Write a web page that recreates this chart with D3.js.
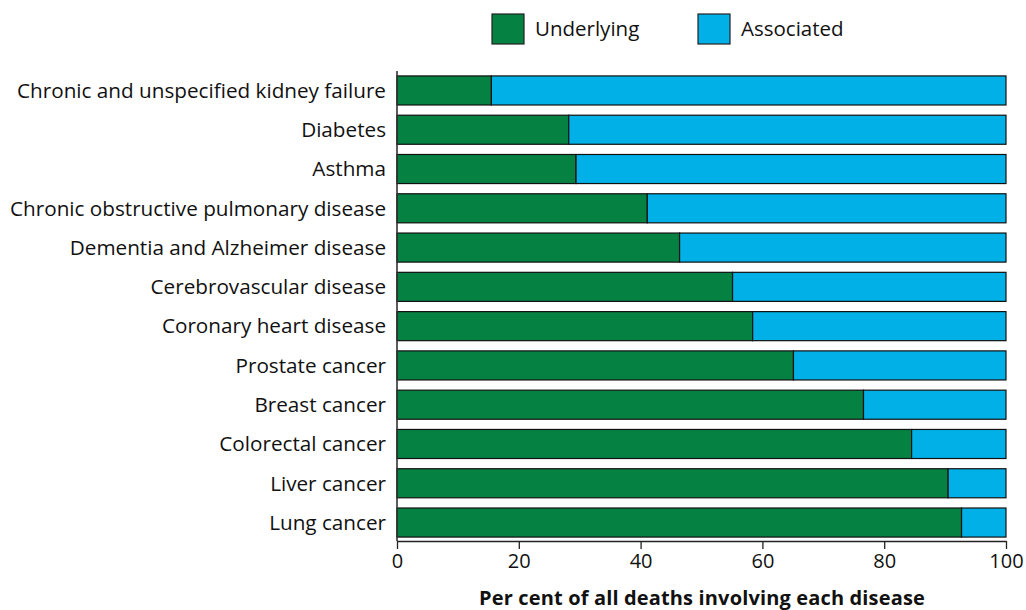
<!DOCTYPE html>
<html><head><meta charset="utf-8">
<script src="https://cdn.jsdelivr.net/npm/d3@7"></script>
<style>body{margin:0;background:#fff;} text{font-family:"Open Sans","Noto Sans",sans-serif;}</style>
</head><body>
<svg id="c" width="1026" height="610"></svg>
<script>
const categories = ["Chronic and unspecified kidney failure","Diabetes","Asthma","Chronic obstructive pulmonary disease","Dementia and Alzheimer disease","Cerebrovascular disease","Coronary heart disease","Prostate cancer","Breast cancer","Colorectal cancer","Liver cancer","Lung cancer"];
const underlying = [15.5,28.2,29.4,41.1,46.4,55.1,58.4,65.1,76.6,84.5,90.5,92.7];
const associated = underlying.map(v => 100 - v);
const seriesNames = ["Underlying","Associated"];
const xTicks = [0,20,40,60,80,100];
const xTitle = "Per cent of all deaths involving each disease";

const colors = {Underlying:"#058142", Associated:"#00B0E6"};
const svg = d3.select("#c");
const x = d3.scaleLinear().domain([0,100]).range([397,1006]);
const y = d3.scaleBand().domain(categories).range([72,541]).paddingInner(0.26).paddingOuter(0.1);

const rows = categories.map((c,i)=>({cat:c, Underlying:underlying[i], Associated:associated[i]}));
const stack = d3.stack().keys(seriesNames)(rows);

svg.append("g").selectAll("g").data(stack).join("g")
  .attr("fill", d=>colors[d.key])
  .selectAll("rect").data(d=>d).join("rect")
  .attr("x", d=>x(d[0])).attr("width", d=>x(d[1])-x(d[0]))
  .attr("y", d=>y(d.data.cat)).attr("height", y.bandwidth())
  .attr("stroke","#111").attr("stroke-width",1.2);

// x axis
const xa = svg.append("g").attr("transform","translate(0,541)")
  .call(d3.axisBottom(x).tickValues(xTicks).tickSize(8).tickSizeOuter(0).tickPadding(5));
xa.select(".domain").attr("stroke","#222").attr("stroke-width",1.3);
xa.selectAll(".tick line").attr("stroke","#222").attr("stroke-width",1.3);
xa.selectAll(".tick text").attr("font-size",20).attr("fill","#111").attr("font-family","'Open Sans',sans-serif");

// y axis line
svg.append("line").attr("x1",397).attr("x2",397).attr("y1",71).attr("y2",541).attr("stroke","#333").attr("stroke-width",1.6);

// category labels
svg.append("g").selectAll("text").data(categories).join("text")
  .attr("x",386).attr("y",d=>y(d)+y.bandwidth()/2).attr("dy","0.35em")
  .attr("text-anchor","end").attr("font-size",20.7).attr("fill","#111").text(d=>d);

svg.append("text").attr("x",702).attr("y",605).attr("text-anchor","middle")
  .attr("font-size",20).attr("font-weight","bold").attr("letter-spacing",0.15).attr("fill","#111").text(xTitle);

// legend
const legPos = [{x:492},{x:698}];
const lg = svg.append("g").selectAll("g").data(seriesNames).join("g")
  .attr("transform",(d,i)=>`translate(${legPos[i].x},14)`);
lg.append("rect").attr("width",32).attr("height",30).attr("fill",d=>colors[d]).attr("stroke","#222").attr("stroke-width",1.2);
lg.append("text").attr("x",43).attr("y",15).attr("dy","0.35em").attr("font-size",20.5).attr("fill","#111").text(d=>d);
</script>
</body></html>
